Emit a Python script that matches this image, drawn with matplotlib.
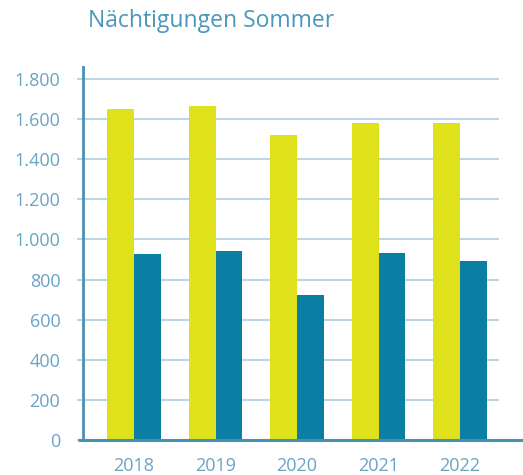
import matplotlib
matplotlib.use("Agg")
import matplotlib.pyplot as plt
import numpy as np

years = ["2018", "2019", "2020", "2021", "2022"]
series_a = [1650, 1667, 1520, 1580, 1580]   # yellow
series_b = [927, 942, 723, 932, 892]        # blue
yticks = [0, 200, 400, 600, 800, 1000, 1200, 1400, 1600, 1800]
ytick_labels = ["0", "200", "400", "600", "800", "1.000", "1.200", "1.400", "1.600", "1.800"]
title = "Nächtigungen Sommer"

YELLOW = "#dfe21a"
BLUE = "#0a7fa3"
GRID = "#bfd5e1"
AXIS = "#4a90b2"
TEXT = "#6aa3c3"
TITLE = "#4a97ba"

plt.rcParams['font.family'] = ['Open Sans', 'DejaVu Sans']

fig = plt.figure(figsize=(5.23, 4.75), dpi=100)
ax = fig.add_axes([83/523, 1-440/475, (523-83)/523, (440-67)/475])

x = np.arange(len(years))
w = 0.331
ax.bar(x - w/2, series_a, width=w, color=YELLOW, zorder=3)
ax.bar(x + w/2, series_b, width=w, color=BLUE, zorder=3)

ax.set_xlim(-0.626, 4.773)
ax.set_ylim(0, 1860)

grid_end = (499-134)/81.5
ax.hlines(yticks[1:], -0.626, grid_end, color=GRID, lw=1.5, zorder=1)

ax.set_yticks(yticks)
ax.set_yticklabels(ytick_labels)
ax.tick_params(axis='y', length=4.3, width=1.5, color=GRID, labelcolor=TEXT, labelsize=13, pad=12)
ax.set_xticks(x)
ax.set_xticklabels(years)
ax.tick_params(axis='x', length=0, labelcolor=TEXT, labelsize=13, pad=12)

for s in ['top', 'right', 'bottom']:
    ax.spines[s].set_visible(False)
ax.spines['left'].set_color(AXIS)
ax.spines['left'].set_linewidth(2)
ax.spines['left'].set_zorder(4)

ax.plot([-0.012, 1.0], [0, 0], transform=ax.transAxes, color=AXIS, lw=2.2,
        clip_on=False, zorder=5, solid_capstyle='butt')

fig.text(88/523, 1-21/475, title, color=TITLE, fontsize=16.5, va='center', ha='left')

fig.savefig("out.png", dpi=100)
